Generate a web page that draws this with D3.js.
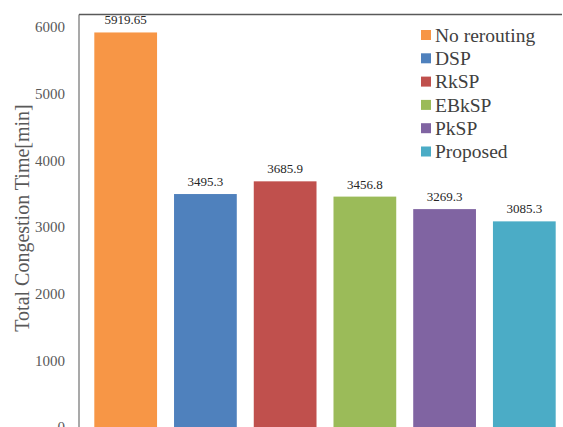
<!DOCTYPE html>
<html>
<head>
<meta charset="utf-8">
<script src="https://cdn.jsdelivr.net/npm/d3@7"></script>
<style>
  html, body { margin: 0; padding: 0; background: #fff; }
  svg { display: block; }
</style>
</head>
<body>
<svg id="chart" width="563" height="427"></svg>
<script>
// Routing methods and their total congestion time (minutes)
const methods = ["No rerouting", "DSP", "RkSP", "EBkSP", "PkSP", "Proposed"];
const congestion = [5919.65, 3495.3, 3685.9, 3456.8, 3269.3, 3085.3];
const colors = ["#F79646", "#4F81BD", "#C0504D", "#9BBB59", "#8064A2", "#4BACC6"];
const yTicks = [0, 1000, 2000, 3000, 4000, 5000, 6000];
const yTitle = "Total Congestion Time[min]";

const svg = d3.select("#chart");
const font = "'Liberation Serif', 'Times New Roman', serif";

// Plot area extends past the right and bottom edges of the window
const plot = { left: 79, top: 14.5, right: 571, bottom: 427 };

const x = d3.scaleBand()
  .domain(methods)
  .range([plot.left, plot.right])
  .paddingInner(0.213)
  .paddingOuter(0.192);

const y = d3.scaleLinear()
  .domain([0, 6000])
  .range([plot.bottom, plot.bottom - 6000 * 0.06665]);

// Bars
svg.append("g")
  .selectAll("rect")
  .data(methods)
  .join("rect")
  .attr("x", d => x(d))
  .attr("width", x.bandwidth())
  .attr("y", (d, i) => y(congestion[i]))
  .attr("height", (d, i) => y(0) - y(congestion[i]))
  .attr("fill", (d, i) => colors[i]);

// Value labels above bars
svg.append("g")
  .selectAll("text")
  .data(methods)
  .join("text")
  .attr("x", d => x(d) + x.bandwidth() / 2)
  .attr("y", (d, i) => y(congestion[i]) - 8)
  .attr("text-anchor", "middle")
  .attr("font-family", font)
  .attr("font-size", 13)
  .attr("fill", "#262626")
  .text((d, i) => String(congestion[i]));

// Y axis
const yAxis = d3.axisLeft(y).tickValues(yTicks).tickSize(0).tickPadding(14).tickFormat(d3.format("d"));
const gy = svg.append("g")
  .attr("transform", `translate(${plot.left},0)`)
  .call(yAxis);
gy.select(".domain").remove();
gy.selectAll("text")
  .attr("font-family", font)
  .attr("font-size", 15)
  .attr("fill", "#595959");

// Left axis line and top frame line
svg.append("line")
  .attr("x1", plot.left).attr("x2", plot.left)
  .attr("y1", plot.top).attr("y2", plot.bottom + 10)
  .attr("stroke", "#8c8c8c").attr("stroke-width", 1.5);
svg.append("line")
  .attr("x1", plot.left).attr("x2", 562)
  .attr("y1", plot.top).attr("y2", plot.top)
  .attr("stroke", "#595959").attr("stroke-width", 1.5);

// Y axis title
svg.append("text")
  .attr("transform", `translate(28.5,218) rotate(-90)`)
  .attr("text-anchor", "middle")
  .attr("font-family", font)
  .attr("font-size", 20)
  .attr("fill", "#595959")
  .text(yTitle);

// Legend
const legend = svg.append("g").attr("transform", "translate(421,35)");
const rowH = 23.3;
methods.forEach((m, i) => {
  const row = legend.append("g").attr("transform", `translate(0,${i * rowH})`);
  row.append("rect")
    .attr("x", 0).attr("y", -5)
    .attr("width", 10).attr("height", 10)
    .attr("fill", colors[i]);
  row.append("text")
    .attr("x", 14).attr("y", 0)
    .attr("dy", "0.35em")
    .attr("font-family", font)
    .attr("font-size", 19.5)
    .attr("fill", "#404040")
    .text(m);
});
</script>
</body>
</html>
